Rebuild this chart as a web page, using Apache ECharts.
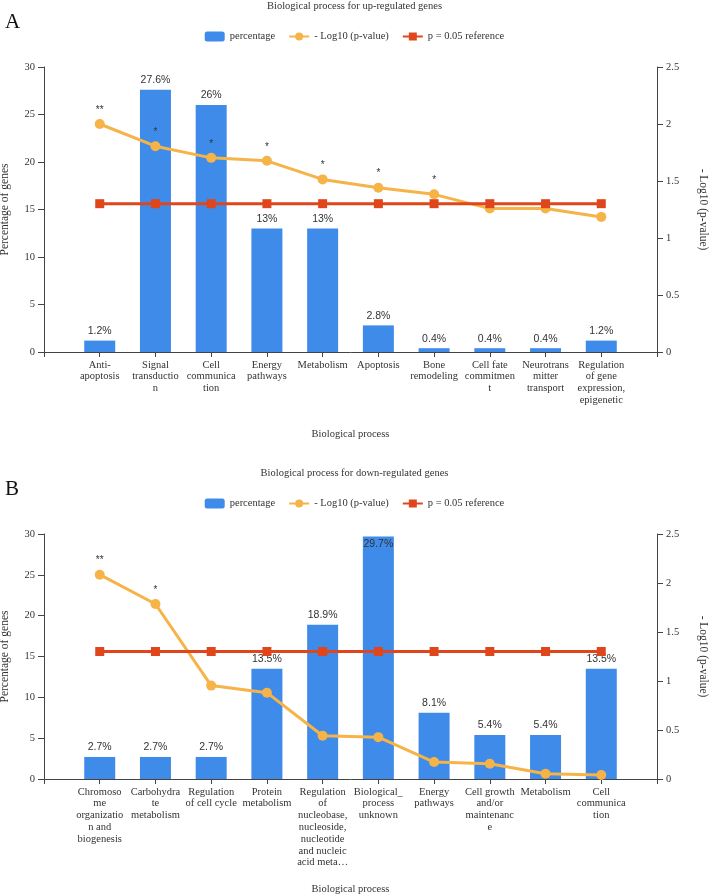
<!DOCTYPE html>
<html>
<head>
<meta charset="utf-8">
<script src="https://cdn.jsdelivr.net/npm/echarts@6/dist/echarts.min.js"></script>
<style>
  html, body { margin: 0; padding: 0; background: #fff; }
  #chart { width: 709px; height: 894px; }
</style>
</head>
<body>
<div id="chart"></div>
<script>
// ---------- DATA ----------
const seriesNames = ['percentage', '- Log10 (p-value)', 'p = 0.05 reference'];

const upTitle = 'Biological process for up-regulated genes';
const upCategories = ['', 'Anti-\napoptosis', 'Signal\ntransductio\nn', 'Cell\ncommunica\ntion', 'Energy\npathways',
  'Metabolism', 'Apoptosis', 'Bone\nremodeling', 'Cell fate\ncommitmen\nt', 'Neurotrans\nmitter\ntransport',
  'Regulation\nof gene\nexpression,\nepigenetic', ''];
const upPercent = [1.2, 27.6, 26, 13, 13, 2.8, 0.4, 0.4, 0.4, 1.2];
const upLogP = [2.0, 1.805, 1.703, 1.677, 1.514, 1.441, 1.383, 1.258, 1.258, 1.185];
const upSig = ['**', '*', '*', '*', '*', '*', '*', '', '', ''];

const downTitle = 'Biological process for down-regulated genes';
const downCategories = ['', 'Chromoso\nme\norganizatio\nn and\nbiogenesis', 'Carbohydra\nte\nmetabolism', 'Regulation\nof cell cycle',
  'Protein\nmetabolism', 'Regulation\nof\nnucleobase,\nnucleoside,\nnucleotide\nand nucleic\nacid meta…',
  'Biological_\nprocess\nunknown', 'Energy\npathways', 'Cell growth\nand/or\nmaintenanc\ne', 'Metabolism',
  'Cell\ncommunica\ntion', ''];
const downPercent = [2.7, 2.7, 2.7, 13.5, 18.9, 29.7, 8.1, 5.4, 5.4, 13.5];
const downLogP = [2.085, 1.786, 0.953, 0.881, 0.441, 0.427, 0.173, 0.156, 0.054, 0.041];
const downSig = ['**', '*', '', '', '', '', '', '', '', ''];

const refValue = 1.301; // -log10(0.05)
const xAxisName = 'Biological process';
const leftAxisName = 'Percentage of genes';
const rightAxisName = '- Log10 (p-value)';
const panelLetters = ['A', 'B'];

// ---------- STYLE ----------
const SERIF = '"Liberation Serif", "DejaVu Serif", serif';
const SANS = '"Liberation Sans", Arial, sans-serif';
const BLUE = '#3f8bea';
const ORANGE = '#f6b347';
const RED = '#e0461c';
const AXIS = '#444';
const FS = 10.5;

function pad(arr) { return [null].concat(arr, [null]); }

function barData(vals) {
  return pad(vals).map(v => v == null ? null : {
    value: v,
    label: v > 29 ? { position: 'insideTop', distance: 2 } : undefined
  });
}
function lineData(vals, sig) {
  const d = pad(vals);
  return d.map((v, i) => v == null ? null : { value: v, sig: sig[i - 1] });
}
function refData(n) {
  const arr = [];
  for (let i = 0; i < n; i++) arr.push(refValue);
  return pad(arr);
}

const grids = [
  { left: 44, right: 52, top: 67, height: 285, containLabel: false, outerBoundsMode: 'none' },
  { left: 44, right: 52, top: 534, height: 245, containLabel: false, outerBoundsMode: 'none' }
];

function xAxis(idx, cats, nameGap) {
  return {
    type: 'category', gridIndex: idx, data: cats, boundaryGap: false,
    name: xAxisName, nameLocation: 'middle', nameGap: nameGap,
    nameTextStyle: { fontFamily: SERIF, fontSize: FS, color: '#333' },
    axisLine: { lineStyle: { color: AXIS, width: 1 } },
    axisTick: { show: true, length: 5, alignWithLabel: true, lineStyle: { color: AXIS } },
    axisLabel: { interval: 0, fontFamily: SERIF, fontSize: FS, color: '#333', lineHeight: 11.8, margin: 7, hideOverlap: false },
    splitLine: { show: false }
  };
}
function leftY(idx) {
  return {
    type: 'value', gridIndex: idx, min: 0, max: 30, interval: 5,
    name: leftAxisName, nameLocation: 'middle', nameGap: 33, nameRotate: 90,
    nameTextStyle: { fontFamily: SERIF, fontSize: 11.5, color: '#333' },
    axisLine: { show: true, lineStyle: { color: AXIS } },
    axisTick: { show: true, length: 6, lineStyle: { color: AXIS } },
    axisLabel: { fontFamily: SERIF, fontSize: FS, color: '#333', margin: 9 },
    splitLine: { show: false }
  };
}
function rightY(idx) {
  return {
    type: 'value', gridIndex: idx, position: 'right', min: 0, max: 2.5, interval: 0.5,
    name: rightAxisName, nameLocation: 'middle', nameGap: 40, nameRotate: -90,
    nameTextStyle: { fontFamily: SERIF, fontSize: 11.5, color: '#333' },
    axisLine: { show: true, lineStyle: { color: AXIS } },
    axisTick: { show: true, length: 6, lineStyle: { color: AXIS } },
    axisLabel: { fontFamily: SERIF, fontSize: FS, color: '#333', margin: 9 },
    splitLine: { show: false }
  };
}

function panelSeries(k, percent, logp, sig) {
  const xi = k, yl = 2 * k, yr = 2 * k + 1;
  return [
    {
      name: seriesNames[0], type: 'bar', xAxisIndex: xi, yAxisIndex: yl,
      data: barData(percent), barWidth: 31,
      itemStyle: { color: BLUE },
      label: { show: true, position: 'top', distance: 4, formatter: '{c}%',
        fontFamily: SANS, fontSize: FS, color: '#333' }
    },
    {
      name: seriesNames[1], type: 'line', xAxisIndex: xi, yAxisIndex: yr,
      data: lineData(logp, sig), symbol: 'circle', symbolSize: 10, connectNulls: false,
      lineStyle: { color: ORANGE, width: 3 }, itemStyle: { color: ORANGE },
      label: { show: true, position: 'top', distance: 4, fontFamily: SANS, fontSize: 10, color: '#333',
        formatter: p => (p.data && p.data.sig) ? p.data.sig : '' }
    },
    {
      name: seriesNames[2], type: 'line', xAxisIndex: xi, yAxisIndex: yr,
      data: refData(percent.length), symbol: 'rect', symbolSize: 9,
      lineStyle: { color: RED, width: 3 }, itemStyle: { color: RED }
    }
  ];
}

const legendCommon = {
  data: seriesNames, left: 'center', itemWidth: 20, itemHeight: 10, itemGap: 13, padding: 0,
  textStyle: { fontFamily: SERIF, fontSize: FS, color: '#333' }
};

const titleStyle = { fontFamily: SERIF, fontSize: FS, fontWeight: 'normal', color: '#333' };
const letterStyle = { fontFamily: SERIF, fontSize: 21, fontWeight: 'normal', color: '#111' };

const option = {
  animation: false,
  backgroundColor: '#fff',
  title: [
    { text: upTitle, left: 'center', top: 1, padding: 0, textStyle: titleStyle },
    { text: panelLetters[0], left: 5, top: 12, padding: 0, textStyle: letterStyle },
    { text: downTitle, left: 'center', top: 468, padding: 0, textStyle: titleStyle },
    { text: panelLetters[1], left: 5, top: 479, padding: 0, textStyle: letterStyle }
  ],
  legend: [
    Object.assign({ top: 31 }, legendCommon),
    Object.assign({ top: 498 }, legendCommon)
  ],
  grid: grids,
  xAxis: [xAxis(0, upCategories, 77), xAxis(1, downCategories, 105)],
  yAxis: [leftY(0), rightY(0), leftY(1), rightY(1)],
  series: panelSeries(0, upPercent, upLogP, upSig).concat(panelSeries(1, downPercent, downLogP, downSig))
};

const chart = echarts.init(document.getElementById('chart'), null, { renderer: 'canvas' });
chart.setOption(option);
</script>
</body>
</html>
